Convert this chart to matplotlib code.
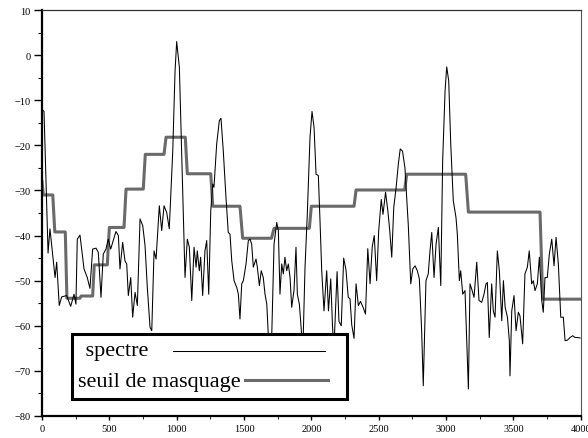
import matplotlib
matplotlib.use("Agg")
import matplotlib.pyplot as plt
from matplotlib.lines import Line2D
from matplotlib.patches import Rectangle
from matplotlib.ticker import MultipleLocator

plt.rcParams['font.family'] = ['Liberation Serif', 'DejaVu Serif']

# spectrum (Hz, dB)
freq = [0, 15, 30, 45, 59, 97, 109, 128, 146, 183, 213, 238, 252, 262, 282, 312, 336, 356,
        376, 401, 418, 438, 455, 475, 492, 510, 529, 549, 567, 579, 599, 616, 629, 641, 659,
        673, 691, 708, 728, 748, 765, 782, 802, 815, 832, 847, 871, 889, 906, 926, 945, 971,
        988, 1000, 1020, 1037, 1062, 1079, 1094, 1112, 1129, 1144, 1153, 1168, 1178, 1193,
        1210, 1223, 1238, 1253, 1268, 1277, 1297, 1317, 1329, 1346, 1366, 1383, 1396, 1409,
        1426, 1446, 1458, 1470, 1483, 1495, 1515, 1532, 1545, 1557, 1569, 1589, 1599, 1614,
        1628, 1643, 1656, 1669, 1680, 1693, 1706, 1723, 1743, 1755, 1767, 1780, 1792, 1804,
        1817, 1829, 1842, 1854, 1871, 1886, 1896, 1911, 1928, 1934, 1940, 1953, 1970, 1990,
        2005, 2020, 2035, 2052, 2064, 2077, 2094, 2114, 2127, 2144, 2157, 2165, 2172, 2191,
        2205, 2222, 2240, 2257, 2274, 2287, 2300, 2317, 2332, 2349, 2365, 2384, 2402, 2419,
        2436, 2452, 2467, 2485, 2500, 2519, 2532, 2551, 2568, 2582, 2597, 2612, 2629, 2646,
        2660, 2677, 2695, 2708, 2720, 2738, 2753, 2770, 2787, 2802, 2819, 2831, 2851, 2868,
        2881, 2894, 2911, 2926, 2943, 2961, 2975, 2993, 3005, 3020, 3035, 3054, 3074, 3084,
        3099, 3109, 3124, 3141, 3154, 3166, 3178, 3191, 3208, 3228, 3245, 3265, 3282, 3297,
        3307, 3321, 3339, 3351, 3364, 3381, 3396, 3414, 3426, 3439, 3456, 3470, 3475, 3488,
        3505, 3520, 3537, 3549, 3569, 3586, 3604, 3618, 3636, 3648, 3661, 3678, 3693, 3711,
        3722, 3735, 3752, 3767, 3785, 3802, 3817, 3834, 3852, 3871, 3884, 3901, 3921, 3941,
        3958, 3976, 3995]
spectre = [-12.0, -12.5, -28.0, -43.9, -38.5, -49.3, -45.9, -55.5, -53.6, -53.3, -55.7, -53.0,
           -55.2, -40.8, -39.9, -47.4, -49.3, -51.7, -43.0, -42.8, -43.7, -53.7, -44.1, -43.0,
           -40.8, -43.0, -41.1, -39.1, -40.0, -47.4, -41.5, -45.6, -46.3, -53.3, -49.3, -58.1,
           -52.6, -55.5, -36.3, -37.8, -42.2, -51.5, -60.3, -61.1, -43.4, -45.2, -33.4, -38.9,
           -33.4, -34.9, -38.5, -21.2, -3.5, 3.0, -2.7, -21.9, -49.3, -40.8, -42.6, -54.4,
           -42.6, -47.0, -43.4, -47.8, -44.8, -53.3, -43.4, -41.1, -53.0, -34.5, -28.6, -29.3,
           -19.7, -14.5, -14.0, -21.2, -31.5, -39.3, -39.7, -45.6, -50.0, -51.5, -53.0, -58.5,
           -50.7, -50.0, -46.3, -41.1, -40.8, -41.9, -47.0, -45.2, -47.0, -51.1, -47.8, -49.3,
           -53.0, -55.2, -61.8, -66.0, -62.0, -41.9, -37.1, -38.9, -53.0, -46.3, -48.5, -44.8,
           -47.8, -46.3, -49.3, -55.9, -52.2, -42.6, -53.0, -55.2, -62.0, -66.0, -62.0, -47.0,
           -35.2, -18.2, -12.5, -16.0, -26.4, -26.7, -36.5, -47.8, -56.7, -47.8, -56.7, -49.6,
           -60.0, -64.0, -62.0, -48.0, -59.0, -60.0, -45.0, -47.6, -53.7, -54.0, -59.8, -62.8,
           -50.7, -55.5, -54.6, -55.9, -57.4, -42.9, -50.7, -42.5, -40.0, -50.0, -39.0, -32.0,
           -35.3, -30.4, -34.5, -38.9, -44.8, -33.7, -29.5, -24.1, -20.8, -21.3, -25.0, -31.5,
           -37.8, -50.7, -47.4, -46.7, -47.8, -49.6, -61.1, -73.3, -50.0, -48.5, -43.4, -39.3,
           -49.3, -41.9, -38.2, -51.1, -23.4, -7.9, -2.6, -5.7, -19.7, -32.3, -36.0, -39.7,
           -50.0, -47.8, -53.0, -52.2, -63.3, -74.0, -50.7, -51.9, -53.7, -45.9, -54.4, -54.8,
           -53.0, -50.7, -50.4, -62.6, -50.7, -56.7, -58.1, -43.4, -47.8, -58.9, -50.0, -55.9,
           -58.1, -63.3, -71.1, -56.7, -53.3, -61.1, -57.0, -57.8, -64.0, -48.5, -47.0, -43.4,
           -50.7, -50.0, -52.2, -50.7, -44.8, -54.4, -57.0, -49.3, -49.3, -44.1, -40.8, -46.7,
           -40.4, -46.3, -58.1, -58.1, -63.3, -63.2, -62.6, -62.2, -62.6, -62.6, -62.7]

# masking threshold, step breakpoints
seuil_x = [0, 10, 80, 95, 173, 185, 282, 290, 376, 388, 485, 500, 609, 624, 752, 767, 906,
           921, 1064, 1079, 1253, 1268, 1470, 1490, 1704, 1723, 1985, 2000, 2317, 2332, 2693,
           2708, 3146, 3166, 3698, 3718, 4000]
seuil_y = [-28, -31, -31, -39.2, -39.2, -53.9, -53.9, -53.4, -53.4, -46.5, -46.5, -38.2,
           -38.2, -29.7, -29.7, -22.0, -22.0, -18.2, -18.2, -26.3, -26.3, -33.5, -33.5, -40.6,
           -40.6, -38.4, -38.4, -33.5, -33.5, -29.9, -29.9, -26.4, -26.4, -34.8, -34.8, -54.1,
           -54.1]

labels = [" spectre", "seuil de masquage"]

fig = plt.figure(figsize=(5.88, 4.39), dpi=100)
ax = fig.add_axes([42 / 588, 22 / 439, 538.7 / 588, 406 / 439])

ax.plot(freq, spectre, color='black', lw=0.75, zorder=3)
ax.plot(seuil_x, seuil_y, color='#6a6a6a', lw=2.2, zorder=2)

ax.set_xlim(0, 4000)
ax.set_ylim(-80, 10)
ax.xaxis.set_major_locator(MultipleLocator(500))
ax.xaxis.set_minor_locator(MultipleLocator(250))
ax.yaxis.set_major_locator(MultipleLocator(10))
ax.yaxis.set_minor_locator(MultipleLocator(5))
ax.tick_params(axis='y', which='major', length=5.5, width=1.0, labelsize=7.5, pad=2.5)
ax.tick_params(axis='y', which='minor', length=3, width=0.8)
ax.tick_params(axis='x', which='major', length=3, width=1.0, labelsize=7.5, pad=3)
ax.tick_params(axis='x', which='minor', length=2, width=0.6)

ax.spines['left'].set_linewidth(1.6)
ax.spines['bottom'].set_linewidth(1.6)
ax.spines['top'].set_linewidth(0.9)
ax.spines['top'].set_color('#333333')
ax.spines['right'].set_linewidth(0.8)
ax.spines['right'].set_color('#555555')

# hand-made legend box, text first and line after it
box = Rectangle((0.0551, 0.0419), 0.5105, 0.1601, transform=ax.transAxes,
                facecolor='white', edgecolor='black', lw=2.2, zorder=5)
ax.add_patch(box)
ax.text(0.071, 0.150, labels[0], transform=ax.transAxes, fontsize=16,
        ha='left', va='baseline', zorder=6)
ax.text(0.0674, 0.0746, labels[1], transform=ax.transAxes, fontsize=16,
        ha='left', va='baseline', zorder=6)
ax.add_line(Line2D([0.243, 0.525], [0.161, 0.161], transform=ax.transAxes,
                   color='black', lw=0.75, zorder=6))
ax.add_line(Line2D([0.377, 0.531], [0.0887, 0.0887], transform=ax.transAxes,
                   color='#6a6a6a', lw=2.2, zorder=6))

fig.savefig("out.png", dpi=100)
